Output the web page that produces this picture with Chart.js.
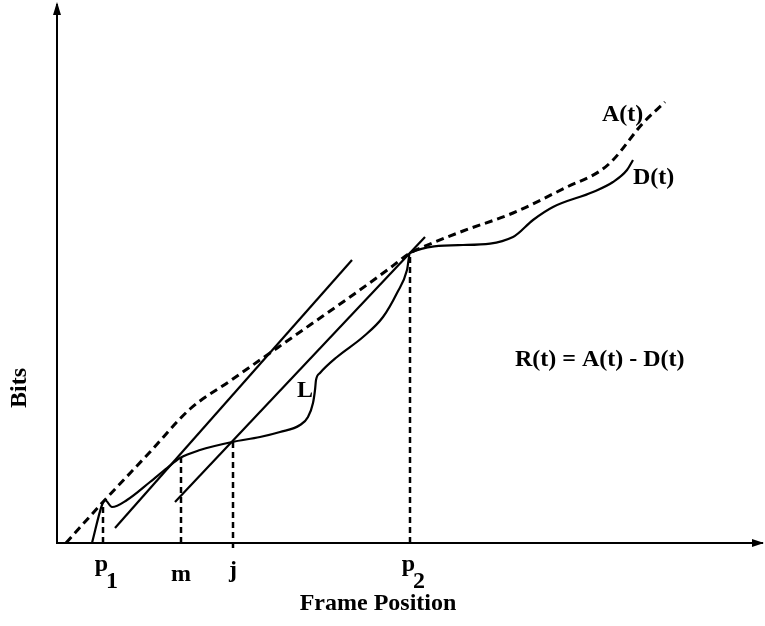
<!DOCTYPE html>
<html>
<head>
<meta charset="utf-8">
<script src="https://cdn.jsdelivr.net/npm/chart.js@4"></script>
<style>
  html, body { margin: 0; padding: 0; background: #fff; }
  #wrap { width: 765px; height: 626px; position: relative; }
</style>
</head>
<body>
<div id="wrap"><canvas id="chart"></canvas></div>
<script>
// ===== Data (x = frame position, y = bits, arbitrary units) =====
const arrivalX = [9, 46, 93, 133, 173, 213, 253, 293, 333, 353, 366, 406, 456, 510, 543, 556, 586, 608];
const arrivalY = [0, 41, 91, 134, 162, 190, 218, 246, 275, 290, 296, 312, 330, 356, 372, 383, 420, 441];

const departX = [35, 45, 48, 55, 70, 93, 110, 123, 143, 175, 203, 223, 243, 251, 256, 258, 259, 263, 280, 306, 326, 340, 350, 353, 406, 456, 476, 496, 536, 556, 570, 576];
const departY = [0, 38, 43, 36, 43, 61, 75, 85, 93, 101, 106, 111, 118, 126, 140, 153, 163, 170, 186, 206, 226, 250, 273, 290, 298, 306, 323, 336, 351, 361, 373, 383];

// the two parallel slope lines (through m, and through j / p2)
const upperLineX = [58, 295];
const upperLineY = [15, 283];
const lowerLineX = [118, 368];
const lowerLineY = [41, 306];

// marked frame positions and the curve value where the dashed drop line starts
const markNames = ['p', 'm', 'j', 'p'];
const markSubs = ['1', '', '', '2'];
const markX = [46, 124, 176, 353];
const markTop = [40, 85, 101, 290];
const markBottom = [0, 0, -5, 0];

const toPts = (xs, ys) => xs.map((x, i) => ({ x, y: ys[i] }));

const FONT = "bold 24px 'Liberation Serif', 'DejaVu Serif', serif";

const datasets = [
    {
        label: 'A(t)',
        data: toPts(arrivalX, arrivalY),
        borderColor: '#000',
        borderWidth: 3,
        borderDash: [8, 5],
        cubicInterpolationMode: 'monotone',
    },
    {
        label: 'D(t)',
        data: toPts(departX, departY),
        borderColor: '#000',
        borderWidth: 2.2,
        cubicInterpolationMode: 'monotone',
    },
    {
        label: 'upper',
        data: toPts(upperLineX, upperLineY),
        borderColor: '#000',
        borderWidth: 2.2,
    },
    {
        label: 'lower',
        data: toPts(lowerLineX, lowerLineY),
        borderColor: '#000',
        borderWidth: 2.2,
    },
];

markX.forEach((x, i) => {
    datasets.push({
        label: 'drop ' + i,
        data: [{ x, y: markBottom[i] }, { x, y: markTop[i] }],
        borderColor: '#000',
        borderWidth: 2.5,
        borderDash: [6, 4],
    });
});

// arrows, tick labels, axis titles and annotations
const figureText = {
    id: 'figureText',
    afterDraw(chart) {
        const { ctx, chartArea, scales } = chart;
        const xs = scales.x, ys = scales.y;
        ctx.save();
        ctx.fillStyle = '#000';

        // axis arrow heads
        ctx.beginPath();
        ctx.moveTo(chartArea.left, chartArea.top - 3);
        ctx.lineTo(chartArea.left - 4, chartArea.top + 10);
        ctx.lineTo(chartArea.left + 4, chartArea.top + 10);
        ctx.closePath();
        ctx.fill();
        ctx.beginPath();
        ctx.moveTo(chartArea.right + 2, chartArea.bottom);
        ctx.lineTo(chartArea.right - 10, chartArea.bottom - 4);
        ctx.lineTo(chartArea.right - 10, chartArea.bottom + 4);
        ctx.closePath();
        ctx.fill();

        ctx.font = FONT;
        ctx.textBaseline = 'alphabetic';

        // frame position labels
        const base = [28, 38, 34, 28];
        markX.forEach((x, i) => {
            const px = xs.getPixelForValue(x);
            ctx.textAlign = markSubs[i] ? 'right' : 'center';
            ctx.fillText(markNames[i], px + (markSubs[i] ? 5 : 0), chartArea.bottom + base[i]);
            if (markSubs[i]) {
                ctx.textAlign = 'left';
                ctx.fillText(markSubs[i], px + 3, chartArea.bottom + 45);
            }
        });

        // axis titles
        ctx.textAlign = 'center';
        ctx.fillText('Frame Position', 378, chartArea.bottom + 67);
        ctx.save();
        ctx.translate(20, 388);
        ctx.rotate(-Math.PI / 2);
        ctx.textBaseline = 'middle';
        ctx.fillText('Bits', 0, 0);
        ctx.restore();

        // curve annotations
        ctx.textAlign = 'left';
        ctx.fillText('A(t)', xs.getPixelForValue(545), ys.getPixelForValue(422));
        ctx.fillText('D(t)', xs.getPixelForValue(576), ys.getPixelForValue(359));
        ctx.fillText('L', xs.getPixelForValue(240), ys.getPixelForValue(146));
        ctx.fillText('R(t) = A(t) - D(t)', xs.getPixelForValue(458), ys.getPixelForValue(177));
        ctx.restore();
    }
};

new Chart(document.getElementById('chart'), {
    type: 'scatter',
    data: { datasets },
    options: {
        responsive: true,
        maintainAspectRatio: false,
        animation: false,
        clip: false,
        layout: { padding: { top: 5, right: 3, left: 0, bottom: 0 } },
        elements: { point: { radius: 0, hoverRadius: 0 }, line: { tension: 0, fill: false } },
        datasets: { scatter: { showLine: true } },
        plugins: { legend: { display: false }, tooltip: { enabled: false } },
        scales: {
            x: {
                type: 'linear', min: 0, max: 705,
                grid: { display: false },
                ticks: { display: false },
                border: { color: '#000', width: 2 },
                afterFit: (s) => { s.height = 83; },
            },
            y: {
                type: 'linear', min: 0, max: 538,
                grid: { display: false },
                ticks: { display: false },
                border: { color: '#000', width: 2 },
                afterFit: (s) => { s.width = 57; },
            },
        },
    },
    plugins: [figureText],
});
</script>
</body>
</html>
